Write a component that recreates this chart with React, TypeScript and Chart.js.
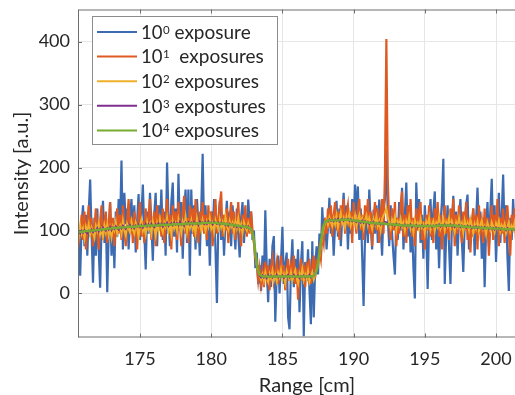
import React, { useEffect, useRef } from 'react';
import { Chart, registerables } from 'chart.js';

Chart.register(...registerables);

// Sampling of the range axis (cm)
const RANGE_START_CM = 170.6;
const RANGE_STEP_CM = 0.1;

const X_TICKS = [175, 180, 185, 190, 195, 200];
const Y_TICKS = [0, 100, 200, 300, 400];

const LEGEND_BASE = '10';
const LEGEND_EXPONENTS = ['0', '1', '2', '3', '4'];
const LEGEND_SUFFIXES = [' exposure', '  exposures', ' exposures', ' expostures', ' exposures'];
const SERIES_COLORS = ['#3C6BB2', '#DE5A22', '#EFB02C', '#7E2F8E', '#77AC30'];

// 10^0 exposure
const EXPOSURE_1 = [
  120, 85, 28, 110, 140, 75, 125, 60, 130, 181,
  95, 17, 120, 60, 135, 70, 9, 110, 147, 80,
  125, 2, 95, 145, 60, 115, 40, 130, 90, 150,
  105, 211, 70, 160, 110, 135, 70, 120, 150, 95,
  140, 65, 115, 158, 85, 125, 173, 100, 38, 130,
  95, 160, 110, 52, 125, 160, 75, 140, 100, 165,
  85, 130, 60, 208, 120, 75, 145, 176, 90, 135,
  65, 190, 100, 145, 55, 130, 165, 80, 165, 28,
  165, 95, 140, 70, 150, 110, 60, 135, 222, 100,
  140, 75, 125, 44, 130, 95, 150, 70, -15, 110,
  147, 85, 125, 60, 115, 147, 90, 130, 75, 140,
  105, 70, 135, 95, 57, 120, 145, 80, 125, 95,
  149, 110, 130, 85, 100, 40, 65, 15, 45, 4,
  60, 20, 132, 40, -14, 55, 10, 75, 91, -45,
  30, 60, 0, 50, 106, 15, 45, 65, -38, -57,
  40, 86, 10, 55, 25, 70, -30, 45, 83, -68,
  50, 20, 70, 5, -49, 83, -38, 40, 75, 30,
  95, 60, 137, 85, 120, 70, 105, 152, 95, 125,
  60, 110, 147, 90, 135, 75, 120, 160, 100, 140,
  70, 130, 95, 150, 110, 173, 125, 170, 85, 135,
  60, -20, 90, 130, 80, 165, 110, 70, 133, 95,
  140, 80, 149, 105, 60, 135, 150, 230, 120, 75,
  140, 95, 60, 30, 120, 85, 145, 100, 168, 70,
  125, 176, 90, 140, 65, 115, 40, -8, 176, 110,
  150, 80, 125, 55, 140, 95, 7, 115, 150, 85,
  130, 162, 70, 120, 40, 110, 145, 214, 15, 95,
  140, 75, 15, 110, 155, 90, 130, 60, 120, 150,
  85, 34, 110, 140, 157, 70, 120, 90, 135, 60,
  115, 168, 95, 130, 55, 120, 10, 100, 145, 75,
  130, 182, 90, 140, 50, 115, 160, 80, 125, 189,
  95, 140, 60, 4, 120, 85, 150, 100, 130, 70,
  110,
];

// 10^1 exposures
const EXPOSURE_10 = [
  115, 80, 95, 125, 85, 130, 70, 110, 140, 90,
  120, 75, 105, 135, 95, 70, 115, 140, 85, 110,
  130, 80, 100, 145, 90, 120, 75, 110, 135, 95,
  125, 85, 140, 100, 75, 115, 150, 95, 120, 80,
  130, 105, 70, 125, 145, 90, 115, 80, 135, 100,
  120, 150, 85, 110, 130, 75, 140, 100, 125, 90,
  135, 80, 115, 150, 95, 125, 70, 140, 105, 130,
  85, 145, 110, 75, 130, 155, 95, 120, 80, 140,
  110, 135, 90, 150, 115, 80, 130, 100, 145, 95,
  125, 85, 140, 105, 130, 75, 120, 150, 95, 115,
  140, 162, 90, 125, 100, 135, 80, 120, 145, 95,
  130, 85, 115, 145, 100, 75, 125, 110, 140, 90,
  120, 95, 130, 100, 80, 55, 45, 20, 40, 15,
  35, 10, 50, 25, 45, 5, 40, 55, 20, 35,
  50, 15, 40, 60, 25, 45, 5, 35, 55, 20,
  45, 30, 60, 15, 40, -10, 35, 55, 20, 45,
  10, 50, 30, 55, 15, 40, 60, 25, 50, 45,
  70, 55, 95, 80, 120, 95, 135, 105, 140, 90,
  125, 145, 100, 130, 85, 140, 115, 150, 95, 125,
  140, 105, 130, 80, 145, 115, 95, 135, 150, 100,
  125, 85, 140, 110, 150, 95, 130, 75, 120, 145,
  100, 135, 80, 125, 150, 95, 190, 404, 180, 110,
  85, 135, 100, 145, 75, 120, 95, 140, 162, 90,
  125, 80, 140, 105, 150, 90, 120, 75, 135, 100,
  130, 145, 85, 115, 70, 125, 100, 140, 90, 120,
  80, 135, 105, 145, 90, 125, 70, 115, 140, 95,
  120, 85, 135, 100, 150, 75, 125, 95, 140, 110,
  80, 130, 100, 145, 85, 120, 65, 110, 135, 95,
  125, 70, 140, 100, 115, 80, 135, 95, 120, 60,
  110, 140, 85, 125, 100, 150, 75, 120, 95, 135,
  80, 115, 140, 95, 60, 125, 100, 135, 85, 110,
  95,
];

// 10^2 exposures
const EXPOSURE_100 = [
  100, 90, 108, 95, 103, 88, 106, 98, 110, 93,
  104, 96, 88, 107, 99, 112, 94, 101, 90, 108,
  97, 110, 93, 104, 89, 106, 100, 113, 95, 103,
  108, 96, 115, 100, 92, 110, 103, 97, 114, 101,
  95, 112, 104, 90, 109, 117, 99, 106, 94, 113,
  102, 110, 96, 115, 105, 92, 111, 100, 118, 104,
  97, 113, 106, 120, 99, 109, 94, 115, 103, 111,
  100, 118, 107, 96, 114, 105, 121, 98, 112, 104,
  116, 101, 109, 95, 119, 107, 113, 100, 117, 108,
  99, 114, 106, 120, 103, 111, 97, 116, 108, 102,
  118, 105, 113, 99, 122, 108, 101, 115, 106, 112,
  98, 114, 104, 119, 102, 110, 96, 113, 105, 100,
  111, 103, 98, 92, 80, 62, 45, 35, 28, 22,
  30, 20, 34, 25, 18, 31, 24, 36, 21, 29,
  19, 33, 26, 38, 22, 30, 17, 35, 27, 23,
  34, 20, 29, 37, 24, 16, 32, 26, 39, 21,
  30, 23, 36, 19, 28, 34, 22, 30, 38, 45,
  60, 76, 92, 104, 112, 118, 109, 121, 113, 107,
  119, 110, 124, 105, 116, 128, 111, 119, 106, 122,
  113, 126, 108, 118, 111, 123, 107, 117, 125, 110,
  119, 104, 116, 124, 109, 120, 112, 103, 118, 110,
  122, 107, 115, 100, 118, 124, 128, 135, 120, 112,
  104, 117, 110, 122, 101, 114, 108, 119, 106, 113,
  100, 115, 108, 121, 103, 111, 97, 116, 107, 112,
  102, 118, 105, 110, 96, 114, 107, 120, 101, 109,
  115, 99, 112, 106, 121, 103, 110, 118, 100, 113,
  107, 120, 102, 115, 109, 98, 113, 106, 119, 104,
  111, 97, 116, 105, 112, 101, 118, 108, 95, 110,
  103, 114, 99, 109, 116, 102, 107, 94, 112, 105,
  100, 113, 106, 97, 111, 104, 115, 99, 108, 102,
  110, 96, 105, 113, 99, 107, 101, 112, 97, 104,
  103,
];

// 10^3 expostures
const EXPOSURE_1000 = [
  94, 99, 95, 100, 96, 101, 97, 95, 100, 98,
  102, 97, 101, 99, 104, 98, 103, 100, 105, 101,
  99, 104, 101, 106, 100, 105, 102, 107, 103, 101,
  106, 103, 108, 104, 102, 107, 105, 109, 104, 107,
  103, 108, 106, 110, 105, 109, 104, 108, 111, 106,
  110, 106, 111, 107, 105, 110, 108, 112, 107, 111,
  106, 111, 108, 113, 107, 110, 112, 108, 113, 109,
  112, 108, 114, 109, 111, 107, 113, 110, 114, 109,
  113, 109, 114, 110, 112, 108, 115, 111, 113, 110,
  114, 110, 115, 111, 113, 109, 114, 112, 110, 113,
  109, 113, 110, 112, 108, 111, 107, 111, 108, 110,
  106, 109, 105, 108, 106, 104, 108, 105, 107, 104,
  107, 103, 101, 94, 83, 64, 47, 35, 28, 25,
  29, 25, 28, 24, 30, 26, 29, 25, 28, 26,
  30, 25, 28, 26, 29, 24, 28, 27, 30, 25,
  28, 26, 30, 25, 27, 29, 24, 28, 26, 29,
  25, 28, 26, 30, 25, 28, 27, 31, 35, 47,
  63, 80, 97, 109, 112, 116, 114, 118, 115, 117,
  114, 118, 115, 119, 114, 117, 119, 115, 118, 116,
  119, 115, 118, 114, 117, 115, 113, 116, 114, 112,
  116, 112, 115, 111, 114, 110, 113, 111, 114, 109,
  112, 110, 113, 109, 112, 110, 114, 113, 111, 109,
  111, 108, 110, 107, 111, 108, 110, 106, 109, 107,
  110, 106, 109, 107, 110, 105, 108, 106, 109, 105,
  108, 106, 109, 105, 108, 107, 109, 106, 108, 105,
  108, 106, 109, 107, 110, 106, 109, 107, 110, 106,
  109, 107, 110, 106, 109, 105, 108, 106, 109, 105,
  108, 105, 107, 104, 108, 105, 107, 103, 106, 104,
  107, 103, 106, 104, 105, 102, 106, 103, 105, 102,
  105, 102, 104, 101, 105, 102, 104, 101, 104, 102,
  103, 100, 104, 101, 103, 100, 103, 101, 104, 100,
  102,
];

// 10^4 exposures
const EXPOSURE_10000 = [
  97, 97, 98, 98, 98, 99, 99, 99, 99, 100,
  100, 100, 100, 101, 101, 101, 101, 102, 102, 102,
  102, 103, 103, 103, 103, 104, 104, 104, 104, 104,
  105, 105, 105, 105, 105, 106, 106, 106, 106, 106,
  106, 106, 107, 107, 107, 107, 107, 107, 107, 108,
  108, 108, 108, 108, 108, 108, 108, 108, 109, 109,
  109, 109, 109, 109, 109, 109, 109, 110, 110, 110,
  110, 110, 110, 110, 110, 110, 111, 111, 111, 111,
  111, 111, 111, 111, 111, 111, 111, 111, 112, 112,
  112, 112, 112, 112, 112, 112, 112, 112, 112, 111,
  111, 111, 111, 111, 110, 110, 110, 109, 109, 109,
  108, 108, 108, 107, 107, 107, 106, 106, 106, 106,
  105, 104, 102, 96, 84, 66, 48, 36, 30, 28,
  27, 27, 27, 27, 27, 27, 27, 27, 27, 27,
  27, 27, 27, 27, 27, 27, 27, 27, 27, 27,
  27, 27, 27, 27, 27, 27, 27, 27, 27, 27,
  27, 27, 27, 27, 27, 27, 28, 30, 36, 48,
  64, 82, 98, 108, 113, 115, 116, 116, 116, 116,
  116, 116, 116, 116, 116, 117, 117, 117, 117, 117,
  117, 117, 116, 116, 116, 116, 115, 115, 115, 114,
  114, 114, 113, 113, 113, 112, 112, 112, 112, 111,
  111, 111, 111, 111, 111, 111, 111, 110, 110, 110,
  110, 110, 109, 109, 109, 109, 109, 108, 108, 108,
  108, 108, 108, 108, 108, 108, 108, 107, 107, 107,
  107, 107, 107, 107, 107, 107, 107, 107, 107, 107,
  107, 107, 107, 108, 108, 108, 108, 108, 108, 108,
  108, 108, 108, 108, 108, 108, 107, 107, 107, 107,
  107, 106, 106, 106, 106, 106, 105, 105, 105, 105,
  105, 105, 105, 104, 104, 104, 104, 104, 104, 104,
  104, 103, 103, 103, 103, 103, 103, 103, 103, 102,
  102, 102, 102, 102, 102, 102, 102, 102, 102, 102,
  102,
];

const SERIES = [EXPOSURE_1, EXPOSURE_10, EXPOSURE_100, EXPOSURE_1000, EXPOSURE_10000];
const SERIES_WIDTHS = [2.2, 2.2, 2, 1.6, 2.4];

const FONT = 'Lato, "Open Sans", sans-serif';
const TEXT_COLOR = '#262626';
const AXIS_COLOR = '#6e6e6e';

export default function App() {
  const canvasRef = useRef<HTMLCanvasElement>(null);

  useEffect(() => {
    const canvas = canvasRef.current;
    if (!canvas) return;

    const toPoints = (vals: number[]) =>
      vals.map((v, i) => ({ x: Math.round((RANGE_START_CM + i * RANGE_STEP_CM) * 100) / 100, y: v }));

    const framePlugin = {
      id: 'matlabFrame',
      afterDatasetsDraw(chart: any) {
        const { ctx, chartArea, scales } = chart;
        const { left, right, top, bottom } = chartArea;
        ctx.save();
        ctx.strokeStyle = AXIS_COLOR;
        ctx.lineWidth = 1;
        ctx.beginPath();
        ctx.moveTo(left + 0.5, top + 0.5);
        ctx.lineTo(right, top + 0.5);
        ctx.moveTo(left + 0.5, top);
        ctx.lineTo(left + 0.5, bottom);
        ctx.moveTo(left, bottom - 0.5);
        ctx.lineTo(right, bottom - 0.5);
        X_TICKS.forEach((t) => {
          const px = Math.round(scales.x.getPixelForValue(t)) + 0.5;
          ctx.moveTo(px, bottom);
          ctx.lineTo(px, bottom - 4);
          ctx.moveTo(px, top);
          ctx.lineTo(px, top + 4);
        });
        Y_TICKS.forEach((t) => {
          const py = Math.round(scales.y.getPixelForValue(t)) + 0.5;
          ctx.moveTo(left, py);
          ctx.lineTo(left + 4, py);
        });
        ctx.stroke();
        ctx.restore();
      },
    };

    const legendPlugin = {
      id: 'insideLegend',
      afterDraw(chart: any) {
        const ctx = chart.ctx;
        ctx.save();
        const bx = 92.5, by = 16.5, bw = 185, bh = 128;
        ctx.fillStyle = '#ffffff';
        ctx.fillRect(bx, by, bw, bh);
        ctx.strokeStyle = '#8c8c8c';
        ctx.lineWidth = 1;
        ctx.strokeRect(bx, by, bw, bh);
        LEGEND_EXPONENTS.forEach((exp, i) => {
          const cy = 32 + i * 24.6;
          ctx.strokeStyle = SERIES_COLORS[i];
          ctx.lineWidth = 2;
          ctx.beginPath();
          ctx.moveTo(97, cy);
          ctx.lineTo(137, cy);
          ctx.stroke();
          ctx.fillStyle = TEXT_COLOR;
          ctx.textAlign = 'left';
          ctx.textBaseline = 'alphabetic';
          ctx.font = `18.5px ${FONT}`;
          let x = 141;
          ctx.fillText(LEGEND_BASE, x, cy + 6.8);
          x += ctx.measureText(LEGEND_BASE).width + 0.5;
          ctx.font = `11.5px ${FONT}`;
          ctx.fillText(exp, x, cy + 1.8);
          x += ctx.measureText(exp).width;
          ctx.font = `19px ${FONT}`;
          ctx.fillText(LEGEND_SUFFIXES[i], x, cy + 6.8);
        });
        ctx.restore();
      },
    };

    const chart = new Chart(canvas, {
      type: 'line',
      data: {
        datasets: SERIES.map((vals, i) => ({
          label: LEGEND_BASE + '^' + LEGEND_EXPONENTS[i] + LEGEND_SUFFIXES[i],
          data: toPoints(vals),
          borderColor: SERIES_COLORS[i],
          backgroundColor: SERIES_COLORS[i],
          borderWidth: SERIES_WIDTHS[i],
          pointRadius: 0,
          tension: 0,
          fill: false,
          order: SERIES.length - i,
        })),
      },
      options: {
        animation: false,
        responsive: false,
        devicePixelRatio: 1,
        layout: { padding: { left: 0, right: 9.1, top: 9.5, bottom: 0 } },
        plugins: {
          legend: { display: false },
          tooltip: { enabled: false },
          title: { display: false },
        },
        scales: {
          x: {
            type: 'linear',
            min: 170.646,
            max: 202.8,
            afterBuildTicks: (scale: any) => {
              scale.ticks = X_TICKS.map((v) => ({ value: v }));
            },
            afterFit: (scale: any) => {
              scale.height = 60.5;
              scale.paddingLeft = 0;
              scale.paddingRight = 0;
            },
            grid: { color: '#e6e6e6', drawTicks: false, lineWidth: 1 },
            border: { display: false },
            ticks: {
              padding: 11,
              color: TEXT_COLOR,
              font: { family: FONT, size: 18 },
              maxRotation: 0,
              autoSkip: false,
            },
            title: {
              display: true,
              text: 'Range [cm]',
              color: TEXT_COLOR,
              font: { family: FONT, size: 20 },
              padding: { top: 0, bottom: 0 },
            },
          },
          y: {
            type: 'linear',
            min: -70,
            max: 451,
            afterBuildTicks: (scale: any) => {
              scale.ticks = Y_TICKS.map((v) => ({ value: v }));
            },
            afterFit: (scale: any) => {
              scale.width = 78;
              scale.paddingTop = 0;
              scale.paddingBottom = 0;
            },
            grid: { color: '#e6e6e6', drawTicks: false, lineWidth: 1 },
            border: { display: false },
            ticks: {
              padding: 8,
              color: TEXT_COLOR,
              font: { family: FONT, size: 18 },
            },
            title: {
              display: true,
              text: 'Intensity [a.u.]',
              color: TEXT_COLOR,
              font: { family: FONT, size: 20 },
              padding: { top: 10, bottom: 0 },
            },
          },
        },
      },
      plugins: [framePlugin, legendPlugin],
    });

    return () => chart.destroy();
  }, []);

  return (
    <div
      style={{
        position: 'fixed',
        left: 0,
        top: 0,
        width: 515,
        height: 395,
        overflow: 'hidden',
        background: '#ffffff',
      }}
    >
      <canvas ref={canvasRef} width={545} height={398} style={{ display: 'block', width: 545, height: 398 }} />
    </div>
  );
}
